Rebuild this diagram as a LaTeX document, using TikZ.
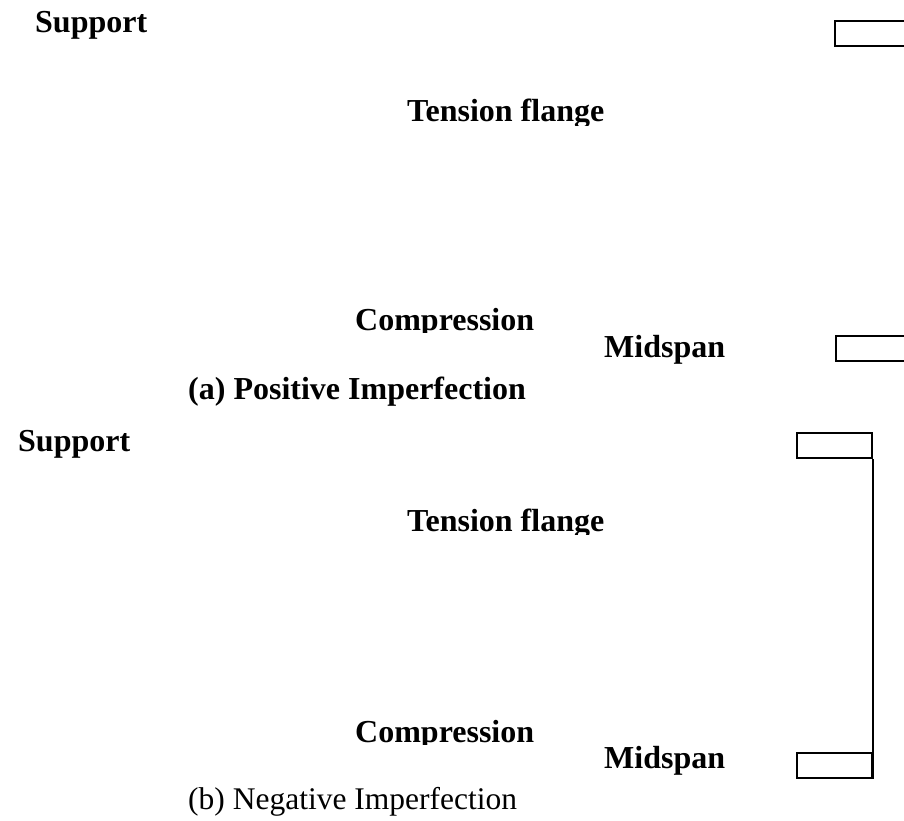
\documentclass[tikz,border=0pt]{standalone}
\usepackage{fontspec}
\setmainfont{Liberation Serif}
\begin{document}
\begin{tikzpicture}[x=1pt,y=-1pt,
  lbl/.style={anchor=base west, inner sep=0pt, font=\fontsize{32}{36}\selectfont\bfseries},
  captxt/.style={anchor=base west, inner sep=0pt, font=\fontsize{31.5}{36}\selectfont},
  flange/.style={draw=black, line width=2pt, inner sep=0pt, anchor=north west, minimum width=75pt, minimum height=25pt}]
\useasboundingbox (0,0) rectangle (904,821);
% (a) positive imperfection
\node[lbl] (supa) at (35,33) {Support};
\begin{scope}
  \clip (380,80) rectangle (640,126);
  \node[lbl] (tena) at (407,122) {Tension flange};
\end{scope}
\begin{scope}
  \clip (330,290) rectangle (560,332);
  \node[lbl] (coma) at (355,330) {Compression};
\end{scope}
\node[lbl] (mida) at (604,357) {Midspan};
\node[lbl] (capa) at (188,399) {(a) Positive Imperfection};
\node[flange] (ra1) at (834,20) {};
\node[flange] (ra2) at (835,335) {};
% (b) negative imperfection
\node[lbl] (supb) at (18,451) {Support};
\begin{scope}
  \clip (380,490) rectangle (640,534);
  \node[lbl] (tenb) at (407,531) {Tension flange};
\end{scope}
\begin{scope}
  \clip (330,700) rectangle (560,744);
  \node[lbl] (comb) at (355,742) {Compression};
\end{scope}
\node[lbl] (midb) at (604,768) {Midspan};
\node[captxt] (capb) at (188,809) {(b) Negative Imperfection};
\node[flange] (rb1) at (796,432) {};
\node[flange] (rb2) at (796,752) {};
\draw[line width=2pt] (rb1.south east) -- (rb2.south east);
\end{tikzpicture}
\end{document}
